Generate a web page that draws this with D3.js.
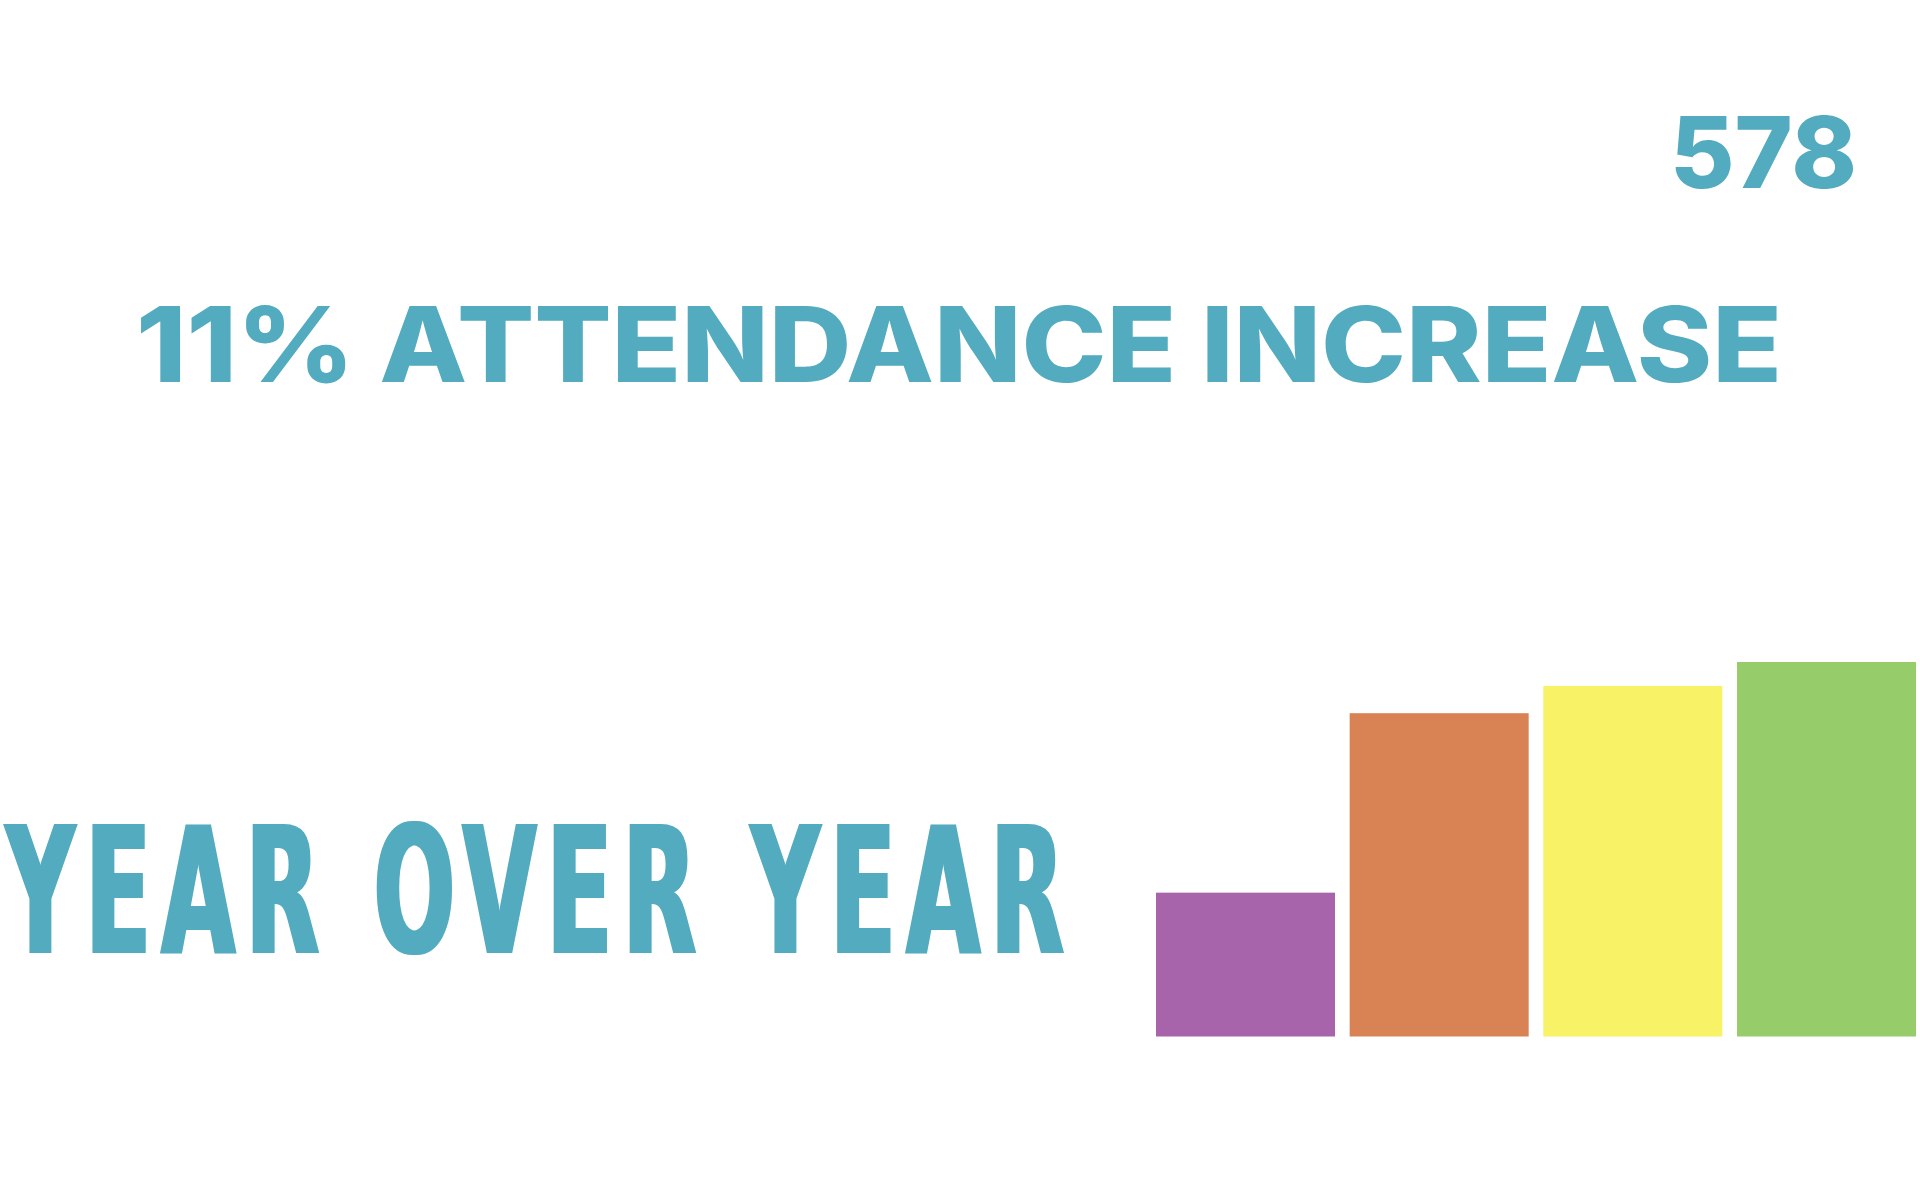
<!DOCTYPE html>
<html>
<head>
<meta charset="utf-8">
<script src="https://cdn.jsdelivr.net/npm/d3@7"></script>
<style>
  html, body { margin: 0; padding: 0; background: #fff; }
  svg { display: block; }
</style>
</head>
<body>
<div id="chart"></div>
<script>
// data
var years = ["Y1", "Y2", "Y3", "Y4"];
var attendance = [222, 499, 541, 578];
var barColors = ["#a864aa", "#d98354", "#f8f266", "#96cc6a"];

var totalLabel = "578";
var headline = "11% ATTENDANCE INCREASE";
var subline = "YEAR OVER YEAR";

var textColor = "#52abbf";

var svgWidth = 1920;
var svgHeight = 1177;

var svg = d3.select("#chart").append("svg")
    .attr("width", svgWidth)
    .attr("height", svgHeight);

// thickens vertical stems of the squeezed condensed line
svg.append("defs").append("filter")
    .attr("id", "fatten")
    .append("feMorphology")
    .attr("operator", "dilate")
    .attr("radius", "4 0");

// bars sit on the right half
var xScale = d3.scaleBand()
    .domain(years)
    .range([1156, 1916])
    .paddingInner(0.0757)
    .paddingOuter(0);

var yScale = d3.scaleLinear()
    .domain([0, d3.max(attendance)])
    .range([1036.5, 662]);

svg.append("g").selectAll("rect")
    .data(attendance)
    .enter()
    .append("rect")
    .attr("x", (d, i) => xScale(years[i]))
    .attr("y", d => yScale(d))
    .attr("width", xScale.bandwidth())
    .attr("height", d => yScale(0) - yScale(d))
    .attr("fill", (d, i) => barColors[i]);

// text squeezed or widened by sx, spread out to span [x0, x1]
function wideText(txt, x0, x1, baseline, sx, family, size, weight) {
    return svg.append("g")
        .attr("transform", `translate(${x0}, ${baseline}) scale(${sx}, 1)`)
        .append("text")
        .attr("x", 0)
        .attr("y", 0)
        .attr("fill", textColor)
        .attr("textLength", (x1 - x0) / sx)
        .attr("lengthAdjust", "spacing")
        .style("font-family", family)
        .style("font-weight", weight)
        .style("font-size", size + "px")
        .text(txt);
}

var gothamish = "Inter, 'Noto Sans', sans-serif";
wideText(totalLabel, 1670, 1857, 188, 1.0, gothamish, 99, 800);
wideText(headline, 136, 1782, 382, 1.1, gothamish, 104, 800);

// condensed line: squeeze glyphs horizontally, then open up spacing
wideText(subline, 6, 1064, 953, 0.6,
    "'Liberation Sans Narrow', 'DejaVu Sans Condensed', sans-serif", 176, 700)
    .attr("filter", "url(#fatten)");
</script>
</body>
</html>
